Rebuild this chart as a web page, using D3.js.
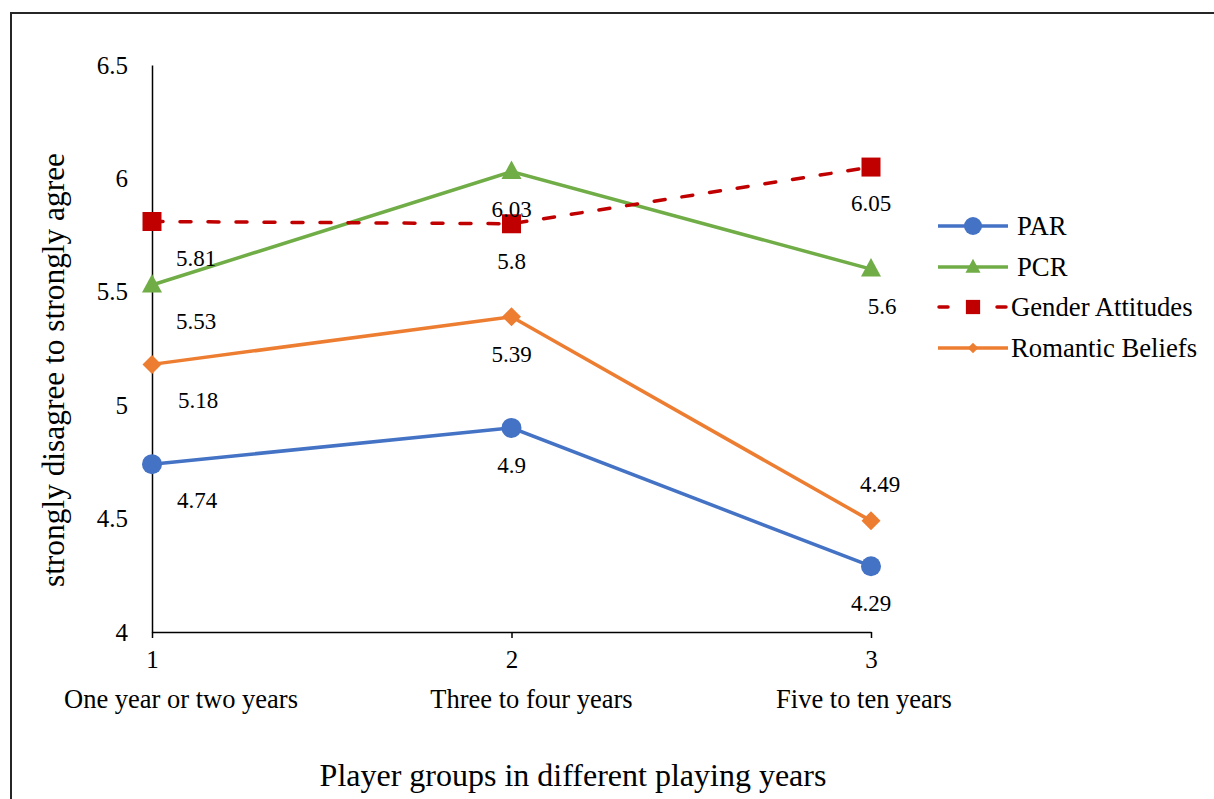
<!DOCTYPE html>
<html>
<head>
<meta charset="utf-8">
<script src="https://cdn.jsdelivr.net/npm/d3@7/dist/d3.min.js"></script>
<style>
  html, body { margin: 0; padding: 0; background: #fff; }
  svg { display: block; }
  svg text { font-family: "Liberation Serif", "Times New Roman", serif; fill: #000; }
</style>
</head>
<body>
<svg id="chart" width="1214" height="799"></svg>
<script>
// Playing-year groups on the x axis
const groups = [1, 2, 3];
const groupNames = ["One year or two years", "Three to four years", "Five to ten years"];

// Mean scores per group
const parValues = [4.74, 4.9, 4.29];
const pcrValues = [5.53, 6.03, 5.6];
const genderValues = [5.81, 5.8, 6.05];
const romanticValues = [5.18, 5.39, 4.49];

const seriesNames = ["PAR", "PCR", "Gender Attitudes", "Romantic Beliefs"];
const yTicks = [4, 4.5, 5, 5.5, 6, 6.5];

const xTitle = "Player groups in different playing years";
const yTitle = "strongly disagree to strongly agree";

// Styling per series
const styles = [
  { color: "#4472C4", shape: "circle",   dash: null },
  { color: "#70AD47", shape: "triangle", dash: null },
  { color: "#C00000", shape: "square",   dash: "11,17" },
  { color: "#ED7D31", shape: "diamond",  dash: null }
];
// Value-label placement relative to each point [dx, dy]
const labelShift = [
  [[45, 36], [0, 37], [0, 37]],
  [[44, 36], [0, 37], [11, 37]],
  [[44, 36], [0, 37], [0, 36]],
  [[46, 36], [0, 37], [9, -37]]
];
// Category text nudges under each tick
const nameShift = [29, 20, -7];

const seriesValues = [parValues, pcrValues, genderValues, romanticValues];

const svg = d3.select("#chart");

// outer frame
svg.append("rect")
  .attr("x", 11).attr("y", 13)
  .attr("width", 1240).attr("height", 820)
  .attr("fill", "none").attr("stroke", "#262626").attr("stroke-width", 2);

const x = d3.scaleLinear().domain([1, 3]).range([152, 871]);
const y = d3.scaleLinear().domain([4, 6.5]).range([632, 65]);

// y axis
const yAxis = svg.append("g")
  .attr("transform", `translate(${x(1)},0)`)
  .call(d3.axisLeft(y).tickValues(yTicks).tickSize(0).tickSizeOuter(0).tickPadding(24)
        .tickFormat(d => String(d)));
yAxis.attr("font-family", null);
yAxis.select(".domain").attr("stroke", "#000").attr("stroke-width", 1.5);
yAxis.selectAll("text").attr("font-size", 25);

// x axis
const xAxis = svg.append("g")
  .attr("transform", `translate(0,${y(4)})`)
  .call(d3.axisBottom(x).tickValues(groups).tickSize(6).tickSizeOuter(0).tickPadding(12)
        .tickFormat(d3.format("d")));
xAxis.attr("font-family", null);
xAxis.select(".domain").attr("stroke", "#000").attr("stroke-width", 1.5);
xAxis.selectAll(".tick line").attr("stroke", "#000").attr("stroke-width", 1.5);
xAxis.selectAll("text").attr("font-size", 25);

// category names
svg.append("g").selectAll("text")
  .data(groups)
  .join("text")
  .attr("x", (d, i) => x(d) + nameShift[i])
  .attr("y", 708)
  .attr("text-anchor", "middle")
  .attr("font-size", 26.5)
  .text((d, i) => groupNames[i]);

// axis titles
svg.append("text")
  .attr("x", 573).attr("y", 786)
  .attr("text-anchor", "middle")
  .attr("font-size", 32)
  .text(xTitle);

svg.append("text")
  .attr("transform", `translate(53,370) rotate(-90)`)
  .attr("dy", "0.35em")
  .attr("text-anchor", "middle")
  .attr("font-size", 31.4)
  .text(yTitle);

// marker shapes
function markerPath(shape) {
  switch (shape) {
    case "circle": return d3.symbol(d3.symbolCircle, Math.PI * 10 * 10)();
    case "square": return "M-9.5,-9.5H9.5V9.5H-9.5Z";
    case "triangle": return "M0,-11L10,7.5H-10Z";
    case "diamond": return "M0,-9.5L9.5,0L0,9.5L-9.5,0Z";
  }
}

const line = d3.line().x((d, i) => x(groups[i])).y(d => y(d));

const plot = svg.append("g");
seriesValues.forEach((vals, s) => {
  const st = styles[s];
  const g = plot.append("g");
  g.append("path")
    .datum(vals)
    .attr("d", line)
    .attr("fill", "none")
    .attr("stroke", st.color)
    .attr("stroke-width", 3.5)
    .attr("stroke-linecap", st.dash ? "round" : "butt")
    .attr("stroke-dasharray", st.dash);
  g.selectAll("path.mark")
    .data(vals)
    .join("path")
    .attr("class", "mark")
    .attr("transform", (d, i) => `translate(${x(groups[i])},${y(d)})`)
    .attr("d", markerPath(st.shape))
    .attr("fill", st.color);
});

// value labels
seriesValues.forEach((vals, s) => {
  svg.append("g").selectAll("text")
    .data(vals)
    .join("text")
    .attr("x", (d, i) => x(groups[i]) + labelShift[s][i][0])
    .attr("y", (d, i) => y(d) + labelShift[s][i][1])
    .attr("dy", "0.35em")
    .attr("text-anchor", "middle")
    .attr("font-size", 23)
    .text(d => String(d));
});

// legend
const legendRowsY = [226, 267, 307, 348];
const legend = svg.append("g");
seriesNames.forEach((name, s) => {
  const st = styles[s];
  const ly = legendRowsY[s];
  const row = legend.append("g");
  if (st.dash) {
    row.append("line").attr("x1", 939).attr("x2", 948).attr("y1", ly).attr("y2", ly)
      .attr("stroke", st.color).attr("stroke-width", 3.5).attr("stroke-linecap", "round");
    row.append("line").attr("x1", 997).attr("x2", 1006).attr("y1", ly).attr("y2", ly)
      .attr("stroke", st.color).attr("stroke-width", 3.5).attr("stroke-linecap", "round");
  } else {
    row.append("line").attr("x1", 938).attr("x2", 1008).attr("y1", ly).attr("y2", ly)
      .attr("stroke", st.color).attr("stroke-width", 3.5);
  }
  const scaleK = st.shape === "circle" ? 0.9 : (st.shape === "diamond" ? 0.55 : 0.75);
  row.append("path")
    .attr("transform", `translate(973,${ly}) scale(${scaleK})`)
    .attr("d", markerPath(st.shape))
    .attr("fill", st.color);
  row.append("text")
    .attr("x", s < 2 ? 1017 : 1011)
    .attr("y", ly)
    .attr("dy", "0.35em")
    .attr("font-size", 26.7)
    .text(name);
});
</script>
</body>
</html>
